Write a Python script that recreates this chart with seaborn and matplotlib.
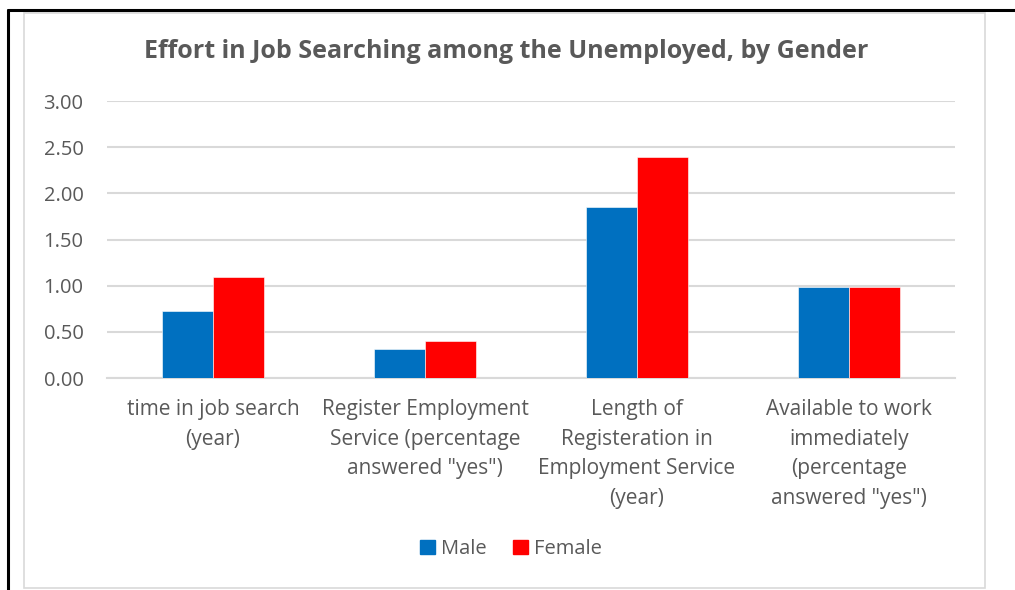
import matplotlib
matplotlib.use("Agg")
import matplotlib.pyplot as plt
from matplotlib.lines import Line2D
from matplotlib.patches import Rectangle
import seaborn as sns
import pandas as pd

categories = [
    "time in job search\n(year)",
    "Register Employment\nService (percentage\nanswered \"yes\")",
    "Length of\nRegisteration in\nEmployment Service\n(year)",
    "Available to work\nimmediately\n(percentage\nanswered \"yes\")",
]
male = [0.73, 0.31, 1.85, 0.99]
female = [1.09, 0.40, 2.39, 0.99]
genders = ["Male", "Female"]
colors = {"Male": "#0070C0", "Female": "#FF0000"}
yticks = [0.0, 0.5, 1.0, 1.5, 2.0, 2.5, 3.0]

df = pd.DataFrame({
    "category": categories * 2,
    "gender": ["Male"] * 4 + ["Female"] * 4,
    "value": male + female,
})

sns.set_theme(style="white")
plt.rcParams["font.family"] = ["Open Sans", "DejaVu Sans"]
text_color = "#595959"
grid_color = "#D9D9D9"

W, H = 1015, 590
fig = plt.figure(figsize=(W / 100, H / 100), dpi=100)

# outer frame lines and chart area border
fig.add_artist(Line2D([8 / W, 1.0], [1 - 10 / H, 1 - 10 / H], color="black", lw=2.2,
                      transform=fig.transFigure))
fig.add_artist(Line2D([8 / W, 8 / W], [0.0, 1 - 10 / H], color="black", lw=2.2,
                      transform=fig.transFigure))
fig.add_artist(Rectangle((24 / W, 1 - 588 / H), (985 - 24) / W, (588 - 13) / H,
                         fill=False, edgecolor=grid_color, lw=1.2,
                         transform=fig.transFigure))

ax = fig.add_axes([107 / W, 1 - 378 / H, (955 - 107) / W, (378 - 101) / H])
sns.barplot(data=df, x="category", y="value", hue="gender", hue_order=genders,
            palette=colors, width=0.48, gap=0, saturation=1, ax=ax,
            edgecolor="white", linewidth=0.4, legend=True, zorder=3)

ax.set_ylim(0, 3)
ax.set_xlim(-0.5, 3.5)
ax.set_yticks(yticks)
ax.set_yticklabels([f"{v:.2f}" for v in yticks])
ax.yaxis.grid(True, color=grid_color, lw=1.5, zorder=0)
ax.set_axisbelow(True)
for s in ["top", "right", "left"]:
    ax.spines[s].set_visible(False)
ax.spines["bottom"].set_color(grid_color)
ax.spines["bottom"].set_linewidth(1.5)
ax.set_xlabel("")
ax.set_ylabel("")
ax.tick_params(axis="y", length=0, pad=17, labelsize=14.5, labelcolor=text_color)
ax.tick_params(axis="x", length=0, pad=15, labelsize=15, labelcolor=text_color)
for lbl in ax.get_xticklabels():
    lbl.set_linespacing(1.55)
    lbl.set_horizontalalignment("center")

ax.legend_.remove()
handles = [Rectangle((0, 0), 1, 1, color=colors[g]) for g in genders]
fig.legend(handles, genders, loc="center", bbox_to_anchor=(511 / W, 1 - 549 / H),
           ncol=2, frameon=False, fontsize=14.5, labelcolor=text_color,
           handlelength=0.75, handleheight=0.75, handletextpad=0.3, columnspacing=1.3)

fig.text(506 / W, 1 - 52 / H, "Effort in Job Searching among the Unemployed, by Gender",
         ha="center", va="center", fontsize=18, fontweight="bold", color=text_color)

fig.savefig("out.png", dpi=100, facecolor="white")
